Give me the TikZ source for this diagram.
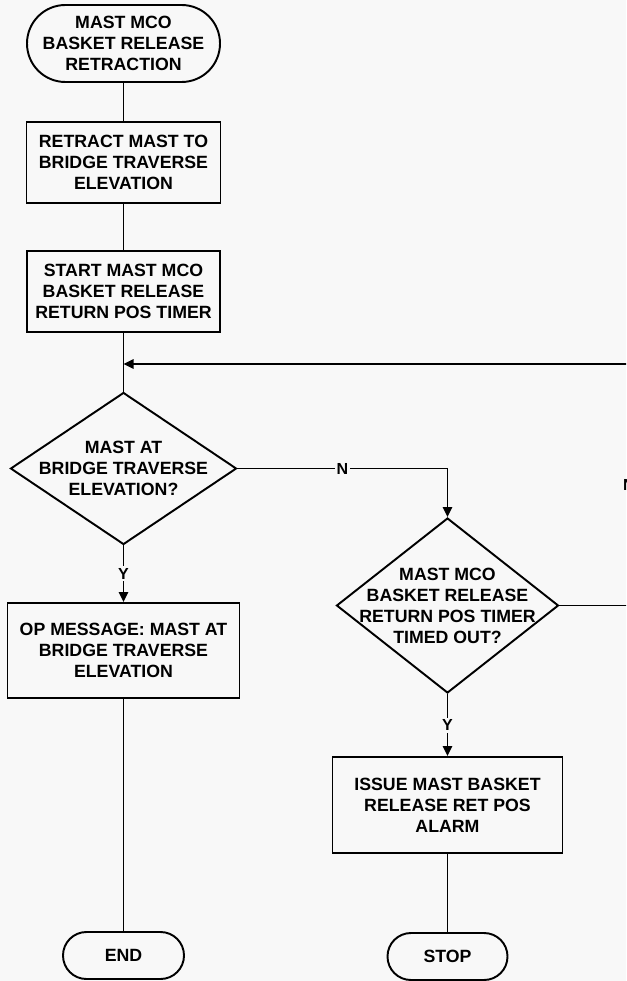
\documentclass[tikz,border=0pt]{standalone}
\usepackage{fontspec}
\setmainfont{Liberation Sans}
\usetikzlibrary{shapes.geometric,arrows.meta}
\definecolor{bg}{RGB}{248,248,248}
\begin{document}
\begin{tikzpicture}[x=0.75pt,y=-0.75pt,
  every node/.style={inner sep=0pt},
  txt/.style={font=\fontsize{13.3}{15.75}\selectfont\bfseries, align=center},
  term/.style={txt,draw,line width=1.45pt,rectangle},
  proc/.style={txt,draw,line width=1.45pt,rectangle},
  dec/.style={draw,line width=1.45pt,diamond},
  lbl/.style={font=\fontsize{12}{14}\selectfont\bfseries, fill=bg, inner sep=1.5pt},
  conn/.style={line width=1.45pt},
  arr/.style={conn,-{Triangle[length=7.5pt,width=7pt]}}
]
\path[fill=bg,use as bounding box] (0,0) rectangle (626,981);
\clip (0,0) rectangle (626,981);

\node[term, minimum width=144.75pt, minimum height=57.75pt, rounded corners=28.8pt] (start) at (123.5,43.5) {MAST MCO\\BASKET RELEASE\\RETRACTION};
\node[proc, minimum width=145.5pt, minimum height=60.75pt] (b1) at (123.5,162.5) {RETRACT MAST TO\\BRIDGE TRAVERSE\\ELEVATION};
\node[proc, minimum width=144.75pt, minimum height=60.75pt] (b2) at (123.5,291.5) {START MAST MCO\\BASKET RELEASE\\RETURN POS TIMER};
\node[dec, minimum width=169.5pt, minimum height=114pt] (d1) at (123.5,468.5) {};
\node[txt] (d1t) at (d1.center) {MAST AT\\BRIDGE TRAVERSE\\ELEVATION?};
\node[proc, minimum width=174pt, minimum height=71.25pt] (op) at (123.5,650.5) {OP MESSAGE: MAST AT\\BRIDGE TRAVERSE\\ELEVATION};
\node[term, minimum width=90.75pt, minimum height=35.25pt, rounded corners=17.6pt] (end) at (123.5,955.5) {END};
\node[dec, minimum width=166.5pt, minimum height=131.25pt] (d2) at (447.5,605.5) {};
\node[txt] (d2t) at (d2.center) {MAST MCO\\BASKET RELEASE\\RETURN POS TIMER\\TIMED OUT?};
\node[proc, minimum width=172.5pt, minimum height=72pt] (b3) at (447.5,805) {ISSUE MAST BASKET\\RELEASE RET POS\\ALARM};
\node[term, minimum width=90pt, minimum height=35.25pt, rounded corners=17.6pt] (stop) at (447.5,956.5) {STOP};

\coordinate (m) at (123.5,364);
\coordinate (c1) at (447.5,468.5);
\coordinate (r1) at (629,605.5);
\coordinate (r2) at (629,364);

\draw[conn] (start.south) -- (b1.north);
\draw[conn] (b1.south) -- (b2.north);
\draw[conn] (b2.south) -- (d1.north);
\draw[arr] (d1.south) -- node[lbl] (y1) {Y} (op.north);
\draw[conn] (op.south) -- (end.north);
\draw[arr] (d1.east) -- node[lbl] (n1) {N} (c1) -- (d2.north);
\draw[arr] (d2.south) -- node[lbl] (y2) {Y} (b3.north);
\draw[conn] (b3.south) -- (stop.north);
\draw[arr] (d2.east) -- (r1) -- node[lbl] (n2) {N} (r2) -- (m);
\end{tikzpicture}
\end{document}
